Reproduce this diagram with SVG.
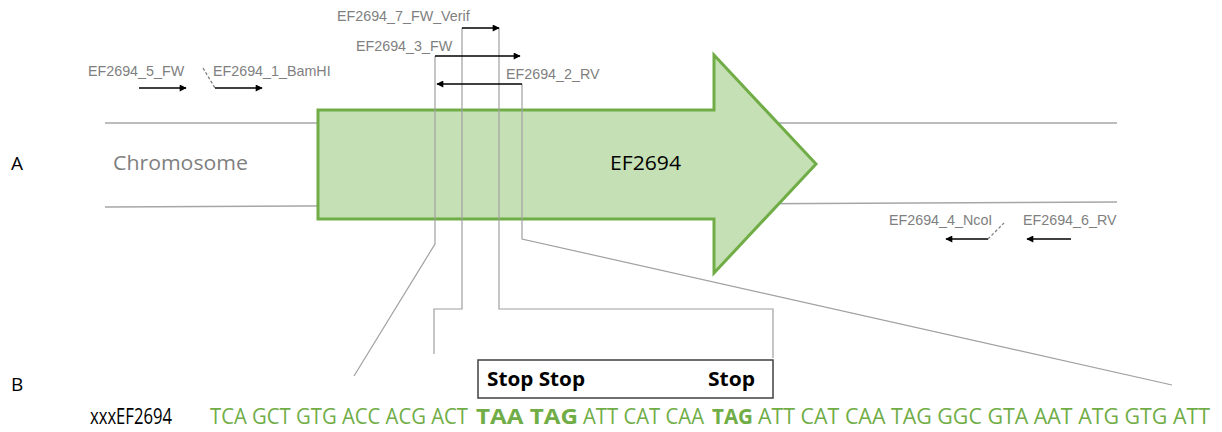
<svg xmlns="http://www.w3.org/2000/svg" width="1222" height="432" viewBox="0 0 1222 432">
  <defs>
    <marker id="ah" viewBox="0 0 10 10" refX="9" refY="5" markerWidth="9" markerHeight="7" markerUnits="userSpaceOnUse" orient="auto">
      <path d="M0,0 L10,5 L0,10 z" fill="#000"/>
    </marker>
    <style>
      .chrom { stroke:#a6a6a6; stroke-width:1.3; fill:none; }
      .guide { stroke:#a0a0a0; stroke-width:1.2; fill:none; }
      .primer { stroke:#000; stroke-width:1.3; fill:none; marker-end:url(#ah); }
      .dash { stroke:#808080; stroke-width:1.3; stroke-dasharray:3,2; fill:none; }
      .plabel { font-family:"Liberation Sans", Arial, sans-serif; font-size:14.3px; fill:#7f7f7f; }
      .lbl { font-family:"Open Sans", "Noto Sans", sans-serif; fill:#000; }
      .seq { font-family:"Open Sans", "Noto Sans", sans-serif; font-size:21px; fill:#70AD47; }
      .bold { font-weight:bold; }
    </style>
  </defs>

  <!-- chromosome -->
  <g id="chromosome">
    <line class="chrom" x1="105" y1="123" x2="1117" y2="123"/>
    <line class="chrom" x1="105" y1="207" x2="1117" y2="202"/>
    <text x="113" y="170" font-family="Open Sans, Noto Sans, sans-serif" font-size="20" fill="#7f7f7f" textLength="135" lengthAdjust="spacingAndGlyphs">Chromosome</text>
  </g>

  <!-- gene arrow -->
  <g id="gene-EF2694">
    <polygon points="318,110 714,110 714,55 816,164 714,273 714,219 318,219" fill="#C5E0B4" stroke="#70AD47" stroke-width="3" stroke-linejoin="miter"/>
    <text class="lbl" x="610" y="170" font-size="20" textLength="71" lengthAdjust="spacingAndGlyphs">EF2694</text>
  </g>

  <!-- section labels -->
  <g id="label-A"><text class="lbl" x="11" y="170" font-size="19">A</text></g>
  <g id="label-B"><text class="lbl" x="11" y="391" font-size="19">B</text></g>

  <!-- connectors -->
  <g id="connectors">
    <polyline class="guide" points="435,56 435,244 354,376"/>
    <polyline class="guide" points="462,28 462,309 434,309 434,354"/>
    <polyline class="guide" points="499,28 499,309 773,309 773,358"/>
    <polyline class="guide" points="522,84 522,239 1172,385"/>
    <line class="primer" x1="139" y1="88" x2="186" y2="88"/>
    <line class="dash" x1="203" y1="68" x2="215" y2="88"/>
    <line class="primer" x1="215" y1="88" x2="262" y2="88"/>
    <line class="primer" x1="462" y1="28" x2="499" y2="28"/>
    <line class="primer" x1="435" y1="56" x2="520" y2="56"/>
    <line class="primer" x1="522" y1="84" x2="437" y2="84"/>
    <line class="primer" x1="988" y1="239" x2="946" y2="239"/>
    <line class="dash" x1="988" y1="239" x2="1004" y2="223"/>
    <line class="primer" x1="1071" y1="239" x2="1027" y2="239"/>
  </g>

  <!-- primer labels -->
  <g id="primer-5_FW"><text class="plabel" x="88" y="76">EF2694_5_FW</text></g>
  <g id="primer-1_BamHI"><text class="plabel" x="213" y="76">EF2694_1_BamHI</text></g>
  <g id="primer-7_FW_Verif"><text class="plabel" x="337" y="21">EF2694_7_FW_Verif</text></g>
  <g id="primer-3_FW"><text class="plabel" x="356" y="51">EF2694_3_FW</text></g>
  <g id="primer-2_RV"><text class="plabel" x="506" y="79">EF2694_2_RV</text></g>
  <g id="primer-4_NcoI"><text class="plabel" x="889" y="225">EF2694_4_NcoI</text></g>
  <g id="primer-6_RV"><text class="plabel" x="1023" y="225">EF2694_6_RV</text></g>

  <!-- stop box -->
  <g id="stop-box">
    <rect x="478" y="360" width="295" height="38" fill="#fff" stroke="#404040" stroke-width="1.5"/>
    <text class="lbl bold" x="487" y="386" font-size="19" textLength="98" lengthAdjust="spacingAndGlyphs">Stop Stop</text>
    <text class="lbl bold" x="708" y="386" font-size="19" textLength="47" lengthAdjust="spacingAndGlyphs">Stop</text>
  </g>

  <!-- sequence -->
  <g id="sequence">
    <text class="lbl" x="90" y="424" font-size="21" textLength="82" lengthAdjust="spacingAndGlyphs">xxxEF2694</text>
    <text class="seq" x="210" y="424" textLength="258" lengthAdjust="spacingAndGlyphs">TCA GCT GTG ACC ACG ACT</text>
    <text class="seq bold" x="476" y="424" textLength="102" lengthAdjust="spacingAndGlyphs">TAA TAG</text>
    <text class="seq" x="583" y="424" textLength="121" lengthAdjust="spacingAndGlyphs">ATT CAT CAA</text>
    <text class="seq bold" x="712" y="424" textLength="41" lengthAdjust="spacingAndGlyphs">TAG</text>
    <text class="seq" x="758" y="424" textLength="452" lengthAdjust="spacingAndGlyphs">ATT CAT CAA TAG GGC GTA AAT ATG GTG ATT</text>
  </g>
</svg>
